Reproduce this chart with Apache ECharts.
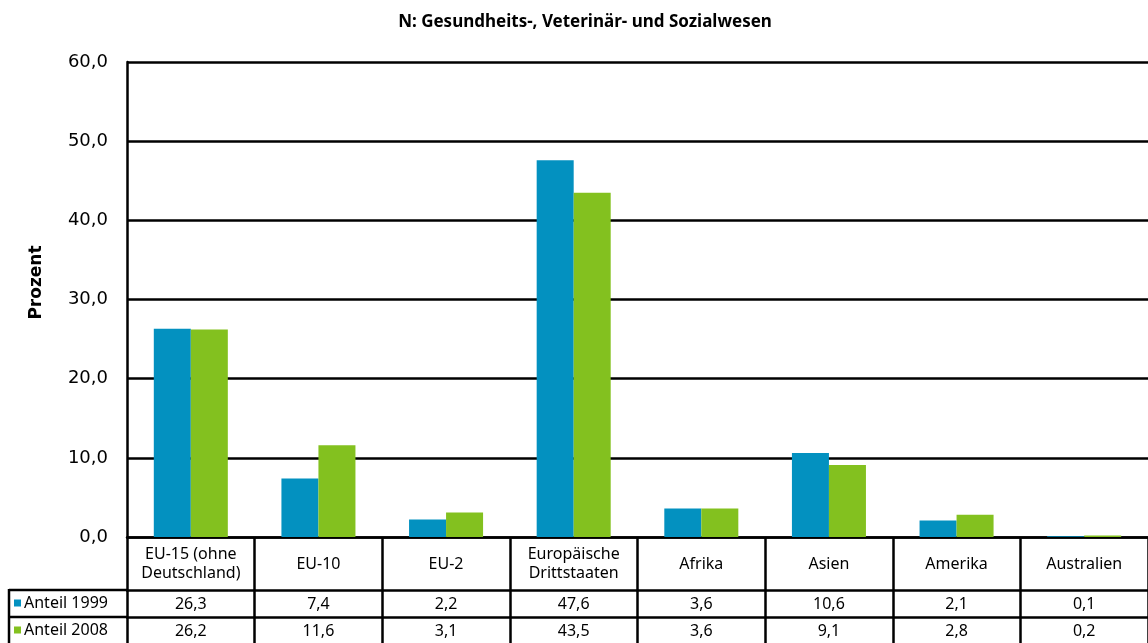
<!DOCTYPE html>
<html>
<head>
<meta charset="utf-8">
<script src="https://cdn.jsdelivr.net/npm/echarts@6/dist/echarts.min.js"></script>
<style>
  html, body { margin: 0; padding: 0; background: #fff; }
  #chart { width: 1148px; height: 643px; }
</style>
</head>
<body>
<div id="chart"></div>
<script>
// Daten
var categories = ['EU-15 (ohne\nDeutschland)', 'EU-10', 'EU-2', 'Europäische\nDrittstaaten', 'Afrika', 'Asien', 'Amerika', 'Australien']
var anteil1999 = [26.3, 7.4, 2.2, 47.6, 3.6, 10.6, 2.1, 0.1]
var anteil2008 = [26.2, 11.6, 3.1, 43.5, 3.6, 9.1, 2.8, 0.2]
var seriesNames = ['Anteil 1999', 'Anteil 2008']
var yTicks = [0, 10, 20, 30, 40, 50, 60]

var blue = '#0391c0'
var green = '#83c11f'
var tableFont = '"Noto Sans", sans-serif'
var lineW = 2.5

function fmt(v) {
  return v.toFixed(1).replace('.', ',')
}

var chart = echarts.init(document.getElementById('chart'))

// x-Achse mit Tabellenzeile (offset = Zeilenposition)
function tableAxis(offset, tickLen, labels, margin) {
  return {
    type: 'category',
    position: 'bottom',
    offset: offset,
    data: categories,
    axisLine: { show: true, lineStyle: { color: '#000', width: lineW } },
    axisTick: { show: true, length: tickLen, interval: 0, lineStyle: { color: '#000', width: lineW } },
    axisLabel: {
      interval: 0,
      margin: margin,
      verticalAlign: 'middle',
      color: '#000',
      fontSize: 16,
      lineHeight: 19,
      fontFamily: tableFont,
      formatter: function (v, i) { return labels ? fmt(labels[i]) : v }
    },
    splitLine: { show: false }
  }
}

chart.setOption({
  animation: false,
  title: {
    text: 'N: Gesundheits-, Veterinär- und Sozialwesen',
    left: 580,
    textAlign: 'center',
    top: 9,
    textStyle: { fontSize: 17, fontWeight: 'bold', color: '#000', fontFamily: tableFont }
  },
  legend: {
    orient: 'vertical',
    left: 14,
    top: 595,
    padding: 0,
    itemWidth: 7,
    itemHeight: 7,
    itemGap: 11,
    icon: 'rect',
    data: seriesNames,
    textStyle: { fontSize: 16, lineHeight: 16, color: '#000', fontFamily: tableFont, padding: [0, 0, 0, -2] }
  },
  grid: { left: 127, right: 0, top: 62, bottom: 106, containLabel: false },
  xAxis: [
    tableAxis(0, 53, null, 27),
    tableAxis(53, 27, anteil1999, 14),
    tableAxis(80, 27, anteil2008, 14)
  ],
  yAxis: {
    type: 'value',
    min: yTicks[0],
    max: yTicks[yTicks.length - 1],
    interval: 10,
    name: 'Prozent',
    nameLocation: 'middle',
    nameRotate: 90,
    nameGap: 82,
    nameTextStyle: { fontSize: 17, fontWeight: 'bold', color: '#000', fontFamily: '"DejaVu Sans", sans-serif', padding: [0, 0, 0, 34] },
    axisLine: { show: true, lineStyle: { color: '#000', width: lineW } },
    axisTick: { show: false },
    axisLabel: {
      margin: 19,
      fontSize: 18,
      color: '#000',
      fontFamily: '"DejaVu Sans", sans-serif',
      formatter: fmt
    },
    splitLine: { show: true, lineStyle: { color: '#000', width: lineW } }
  },
  graphic: [
    { type: 'line', shape: { x1: 9, y1: 590, x2: 127, y2: 590 }, style: { stroke: '#000', lineWidth: lineW } },
    { type: 'line', shape: { x1: 9, y1: 617, x2: 127, y2: 617 }, style: { stroke: '#000', lineWidth: lineW } },
    { type: 'line', shape: { x1: 9, y1: 589, x2: 9, y2: 643 }, style: { stroke: '#000', lineWidth: lineW } }
  ],
  series: [
    {
      name: seriesNames[0],
      type: 'bar',
      xAxisIndex: 0,
      data: anteil1999,
      barGap: 0,
      barCategoryGap: '42%',
      itemStyle: { color: blue }
    },
    {
      name: seriesNames[1],
      type: 'bar',
      xAxisIndex: 0,
      data: anteil2008,
      barGap: 0,
      barCategoryGap: '42%',
      itemStyle: { color: green }
    }
  ]
})
</script>
</body>
</html>
